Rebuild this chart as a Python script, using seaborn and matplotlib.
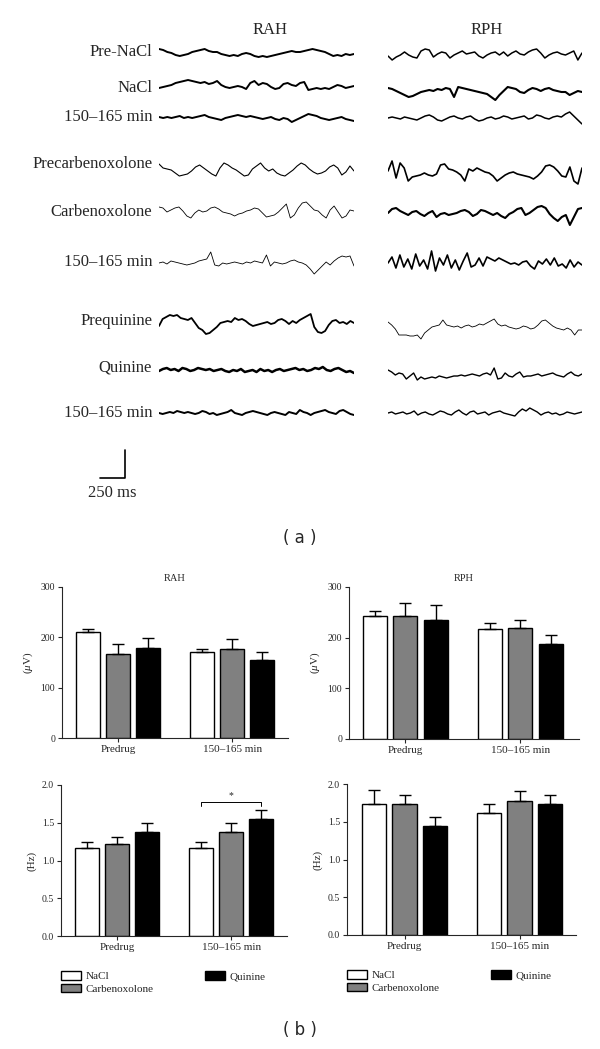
import numpy as np
import pandas as pd
import matplotlib
matplotlib.use("Agg")
import matplotlib.pyplot as plt
import seaborn as sns

sns.set_style("ticks")
plt.rcParams["font.family"] = ["Liberation Serif", "DejaVu Serif"]
plt.rcParams["mathtext.fontset"] = "custom"
plt.rcParams["mathtext.rm"] = "Liberation Serif"
plt.rcParams["mathtext.it"] = "Liberation Serif:italic"

# ---------------- data: (a) example EEG traces (hand-read deflections, px-ish units, up = +) ----------------
row_labels = ["Pre-NaCl", "NaCl", "150–165 min",
              "Precarbenoxolone", "Carbenoxolone", "150–165 min",
              "Prequinine", "Quinine", "150–165 min"]

rah_pre_nacl = [5, 4, 2, 1, -1, -2, -1, 0, 2, 3, 4, 5, 3, 2, 2, 0, -1, -2, -1, -2, 0, 1, 0, -2, -3, -2, -3, -2,
                -1, 0, 1, 2, 3, 2, 2, 3, 4, 5, 4, 3, 2, 0, -2, -1, -2, 0, -1, 0]
rah_nacl = [-1, 0, 1, 2, 4, 5, 6, 7, 6, 5, 4, 5, 3, 4, 6, 2, 0, -1, 0, 1, 0, -2, 4, 6, 2, 4, 3, 0, -2, -1, 3, 4,
            2, 1, 4, 5, -3, -2, -1, -2, -1, -2, 0, 2, 1, -1, 0, 1]
rah_post_nacl = [1, 0, 1, 0, 1, 2, 0, 1, 0, 1, 2, 3, 1, 0, -1, -2, 0, 1, 2, 3, 2, 1, 2, 1, 0, -1, 0, 1, -1, -2, 0,
                 -1, -4, -2, 0, 2, 4, 3, 2, 0, -1, -2, -1, 0, 1, -1, -2, -3]
rah_pre_cbx = [7, 3, 2, 1, -2, -5, -4, -3, 0, 4, 6, 3, 0, -3, -5, 3, 8, 6, 3, 1, -2, -5, -4, 2, 5, 8, 3, 0, 2, -2,
               -4, -5, -2, 1, 5, 8, 6, 2, -1, -3, -2, 0, 4, 6, 3, -4, -1, 5, 0]
rah_cbx = [3, 2, -2, 0, 2, 3, -1, -6, -8, -3, 0, -2, -1, 2, 3, 1, -2, -3, -4, -6, -4, -3, -1, 0, 2, 1, -3, -7, -6,
           -5, -2, 2, 6, -8, -5, 2, 7, 8, 4, 0, -1, -5, -8, 0, 4, -2, -8, -6, 0, -1]
rah_post_cbx = [0, 1, -1, 2, 1, 0, -1, -2, -1, 0, 2, 3, 4, 11, -2, -3, 0, -1, 0, 1, 0, -1, 1, 0, 2, 1, 0, 8, -3, 1,
                0, -1, 0, 2, 3, 1, 0, -2, -6, -11, -7, -3, 1, -2, 2, 5, 7, 6, 7, -3]
rah_pre_qui = [-3, 4, 6, 8, 7, 8, 5, 4, 3, 5, 0, -5, -7, -11, -10, -7, -4, 0, 1, 2, 1, 5, 3, 4, 2, -1, -3, -2, -1,
               0, 1, -1, 0, 3, 4, 2, -1, 2, 0, 3, 5, 7, 9, -4, -9, -10, -8, -2, 2, 3, 0, 1, -1, 2, 0]
rah_qui = [-1, 1, 2, 0, 1, -1, 2, 1, -1, 0, 2, 1, 0, 1, -1, 0, 1, -1, -2, 0, -1, 1, -2, -1, 0, -2, 1, -1, 0, -2,
           0, 1, -1, 0, 1, 2, 0, 1, -1, 0, 2, 1, 3, 0, -1, 1, 2, 0, -2, -1, -3]
rah_post_qui = [0, -1, 0, 1, 0, 2, 1, 0, 1, 0, -1, 0, 2, 1, -1, 0, -2, -1, 0, 1, 3, 0, -1, -2, 0, 1, 2, 1, 0, -1,
                -2, 0, 1, 0, -1, -2, 1, 0, -1, 3, 1, 0, -2, 0, 1, 2, 3, 1, 0, -1, 2, 3, 1, -1, -2]

rph_pre_nacl = [-1, -5, -2, 0, 3, 0, -2, -3, 4, 6, 5, -2, 1, 3, 2, -3, 0, 2, 4, 1, 2, 3, -1, -3, 0, 2, 3, 0, 3,
                -1, 2, 4, 1, 0, 3, 5, 6, 2, -3, 0, 2, 3, 1, 0, 2, 4, -5, 2]
rph_nacl = [3, 2, 0, -2, -4, -6, -5, -3, -1, 0, 1, 0, 2, 1, 3, 2, -6, 4, 3, 2, 1, 0, -1, -2, -3, -6, -9, -4, 0, 4,
            3, 2, -1, -2, 1, 3, 2, 0, 2, 3, 1, 0, -1, -1, -4, -2, 0, -1]
rph_post_nacl = [0, 1, 0, -1, 1, 0, -1, -2, 0, 2, 3, 1, -2, -3, -1, 1, 2, 0, -1, 1, 2, -1, -3, -2, 0, 1, -1, 0, 2,
                 1, -1, 0, 1, 2, -1, 0, 3, 2, 0, -1, 1, 2, 1, 4, 6, 2, -2, -6]
rph_pre_cbx = [2, 12, -5, 10, 5, -8, -4, -3, -2, 0, -2, -3, -1, 8, 9, 4, 3, 1, -2, -8, 4, 2, 5, 3, 1, 0, -3, -8,
               -5, -2, 0, 1, -1, -2, -3, -4, -6, -3, 1, 7, 8, 6, 2, -3, -4, 6, -8, -11, 5]
rph_cbx = [0, 4, 5, 2, 0, -2, 1, 2, -1, -3, 0, 2, -4, -1, 0, -2, -1, 0, 2, 3, 1, -3, -1, 3, 2, 0, -2, 0, -3, -5,
           -1, 1, 4, 5, -2, 0, 3, 6, 7, 5, -1, -5, -8, -4, -2, -12, -4, 4, 5]
rph_post_cbx = [0, 6, -5, 8, -4, 4, -6, 9, -3, 3, -6, 12, -8, 5, -2, 8, -5, 3, -7, 2, 10, -4, -2, 5, -3, 6, 4, 2,
                5, 3, 1, -1, 0, -2, 1, 2, -3, -6, 2, -1, 4, -2, 5, -3, -1, -5, 3, -4, 1, -2]
rph_pre_qui = [5, 2, -2, -8, -8, -8, -9, -9, -8, -12, -6, -3, 0, 1, 2, 7, 2, 1, 0, 1, -1, 1, 2, 0, 1, 3, 2, 4, 6,
               8, 3, 1, 2, 0, -1, -2, -1, 1, 0, -2, -1, 2, 6, 7, 4, 1, -1, -2, -3, -1, -3, -8, -3, -3]
rph_qui = [5, 3, 0, 2, 1, -4, -1, 2, -5, -2, -4, -3, -2, -3, -1, -2, -3, -2, -1, -1, 0, -1, 0, 1, 0, -1, 1, 2, 0,
           7, -4, -3, 2, -1, -2, 1, 3, -2, -1, -1, 0, 1, -1, 0, 1, 2, 0, -1, -2, 1, 3, 0, -1, 1]
rph_post_qui = [0, 1, -1, 0, 1, -1, 0, 2, -2, 0, 1, -1, -2, 0, 2, 1, -1, -2, 1, 3, 0, -2, 1, 2, -1, 0, 1, -2, 0,
                1, 2, 0, -1, -2, -3, 1, 4, 2, 5, 3, 1, -2, 0, 1, -1, 0, -2, -1, 1, 0, -1, 0, 1]

rah_traces = [rah_pre_nacl, rah_nacl, rah_post_nacl, rah_pre_cbx, rah_cbx, rah_post_cbx,
              rah_pre_qui, rah_qui, rah_post_qui]
rph_traces = [rph_pre_nacl, rph_nacl, rph_post_nacl, rph_pre_cbx, rph_cbx, rph_post_cbx,
              rph_pre_qui, rph_qui, rph_post_qui]

# ---------------- data: (b) bar charts ----------------
periods = ["Predrug", "150–165 min"]
drugs = ["NaCl", "Carbenoxolone", "Quinine"]

rah_uv_mean = {"NaCl": [210, 171], "Carbenoxolone": [166, 177], "Quinine": [178, 154]}
rah_uv_sem = {"NaCl": [7, 6], "Carbenoxolone": [20, 19], "Quinine": [20, 16]}
rph_uv_mean = {"NaCl": [242, 218], "Carbenoxolone": [242, 220], "Quinine": [234, 187]}
rph_uv_sem = {"NaCl": [10, 11], "Carbenoxolone": [26, 14], "Quinine": [30, 18]}
rah_hz_mean = {"NaCl": [1.16, 1.16], "Carbenoxolone": [1.22, 1.38], "Quinine": [1.38, 1.55]}
rah_hz_sem = {"NaCl": [0.09, 0.09], "Carbenoxolone": [0.09, 0.12], "Quinine": [0.12, 0.12]}
rph_hz_mean = {"NaCl": [1.73, 1.61], "Carbenoxolone": [1.73, 1.77], "Quinine": [1.44, 1.73]}
rph_hz_sem = {"NaCl": [0.19, 0.12], "Carbenoxolone": [0.13, 0.14], "Quinine": [0.12, 0.13]}

# ---------------- layout / style ----------------
W, H = 600, 1049
fig = plt.figure(figsize=(W / 100, H / 100), dpi=100)


def fbox(x0, x1, y0, y1):
    # pixel box -> figure fraction rect
    return [x0 / W, 1 - y1 / H, (x1 - x0) / W, (y1 - y0) / H]


rah_rows = [54, 87, 118, 171, 210, 263, 323, 370, 413]
rph_rows = [55, 91, 118, 173, 213, 263, 327, 375, 413]
label_rows = [52, 88, 117, 164, 212, 262, 321, 367, 413]
rah_lw = [1.4, 1.4, 1.4, 0.8, 0.6, 0.6, 1.3, 1.8, 1.4]
rph_lw = [1.1, 1.5, 1.1, 1.2, 1.5, 1.2, 0.6, 1.0, 1.0]

ax_l = fig.add_axes(fbox(159, 354, 35, 500))
ax_r = fig.add_axes(fbox(388, 582, 35, 500))
for ax, traces, rows, lws in [(ax_l, rah_traces, rah_rows, rah_lw), (ax_r, rph_traces, rph_rows, rph_lw)]:
    for vals, r, lw in zip(traces, rows, lws):
        t = np.linspace(0, 2.0, len(vals))
        sns.lineplot(x=t, y=r - np.array(vals), ax=ax, color="black", lw=lw, estimator=None, sort=False)
    ax.set_xlim(0, 2.0)
    ax.set_ylim(500, 35)
    ax.set_axis_off()

for lab, r in zip(row_labels, label_rows):
    ax_l.text(-0.07, r, lab, ha="right", va="center", fontsize=12)

# scale bar: 250 ms
ax_l.plot([-0.6, -0.35, -0.35], [478, 478, 450], color="black", lw=1.2, clip_on=False)
ax_l.text(-0.48, 493, "250 ms", ha="center", va="center", fontsize=12)

fig.text(270 / W, 1 - 30 / H, "RAH", ha="center", va="center", fontsize=12)
fig.text(487 / W, 1 - 30 / H, "RPH", ha="center", va="center", fontsize=12)
fig.text(0.5, 1 - 538 / H, "( a )", ha="center", va="center", fontsize=12, family="DejaVu Sans")
fig.text(0.5, 1 - 1030 / H, "( b )", ha="center", va="center", fontsize=12, family="DejaVu Sans")

palette = {"NaCl": "white", "Carbenoxolone": "#808080", "Quinine": "black"}


def bar_panel(rect, means, sems, ylim, yticks, ylabel, title=None, fmt="%d", xlim=(-0.49, 1.49)):
    ax = fig.add_axes(rect)
    df = pd.DataFrame([{"period": p, "drug": d, "value": means[d][i]}
                       for d in drugs for i, p in enumerate(periods)])
    sns.barplot(data=df, x="period", y="value", hue="drug", order=periods, hue_order=drugs,
                palette=palette, edgecolor="black", linewidth=1.0, width=0.79, gap=0.2,
                errorbar=None, legend=False, ax=ax)
    bars = list(ax.containers)
    for d, cont in zip(drugs, bars):
        xs = [p.get_x() + p.get_width() / 2 for p in cont.patches]
        hs = [p.get_height() for p in cont.patches]
        err = np.array(sems[d])
        ax.errorbar(xs, hs, yerr=[np.zeros_like(err), err], fmt="none", ecolor="black",
                    elinewidth=1.0, capsize=4, capthick=1.0, zorder=3)
    ax.set_ylim(*ylim)
    ax.set_xlim(*xlim)
    ax.set_yticks(yticks)
    ax.yaxis.set_major_formatter(matplotlib.ticker.FormatStrFormatter(fmt))
    ax.set_xlabel("")
    ax.set_ylabel(ylabel, fontsize=8, labelpad=4)
    ax.tick_params(axis="y", labelsize=7, length=3, width=0.8, pad=2)
    ax.tick_params(axis="x", labelsize=8, length=3, width=0.8, pad=2)
    for s in ["left", "bottom"]:
        ax.spines[s].set_linewidth(0.8)
    sns.despine(ax=ax)
    if title:
        ax.set_title(title, fontsize=7.5, pad=4)
    return ax, bars


uv_lab = r"($\mu$V)"
ax1, _ = bar_panel(fbox(62, 288, 587, 738), rah_uv_mean, rah_uv_sem, (0, 300), [0, 100, 200, 300], uv_lab, "RAH")
ax2, _ = bar_panel(fbox(349, 579, 587, 739), rph_uv_mean, rph_uv_sem, (0, 300), [0, 100, 200, 300], uv_lab, "RPH",
                   xlim=(-0.49, 1.51))
ax3, bars3 = bar_panel(fbox(61, 287, 785, 936), rah_hz_mean, rah_hz_sem, (0, 2.0), [0, 0.5, 1.0, 1.5, 2.0], "(Hz)",
                       fmt="%.1f")
ax4, bars4 = bar_panel(fbox(347, 576, 784, 935), rph_hz_mean, rph_hz_sem, (0, 2.0), [0, 0.5, 1.0, 1.5, 2.0], "(Hz)",
                       fmt="%.1f", xlim=(-0.5, 1.49))

# significance bracket NaCl vs Quinine at 150-165 min (RAH)
p0 = bars3[0].patches[1]
p2 = bars3[2].patches[1]
xa = p0.get_x() + p0.get_width() / 2
xb = p2.get_x() + p2.get_width() / 2
ax3.plot([xa, xa, xb, xb], [1.72, 1.775, 1.775, 1.72], color="black", lw=0.7, clip_on=False)
ax3.text((xa + xb) / 2, 1.80, "*", ha="center", va="bottom", fontsize=7)

for ax, bars in [(ax3, bars3), (ax4, bars4)]:
    handles = [c.patches[0] for c in bars]
    ax.legend(handles, drugs, loc="upper left", bbox_to_anchor=(0.0, -0.235), ncol=2, frameon=False,
              fontsize=8, handlelength=1.8, handleheight=0.75, handletextpad=0.4, labelspacing=0.2,
              columnspacing=4.6, borderpad=0, borderaxespad=0)

fig.savefig("out.png", dpi=100)
